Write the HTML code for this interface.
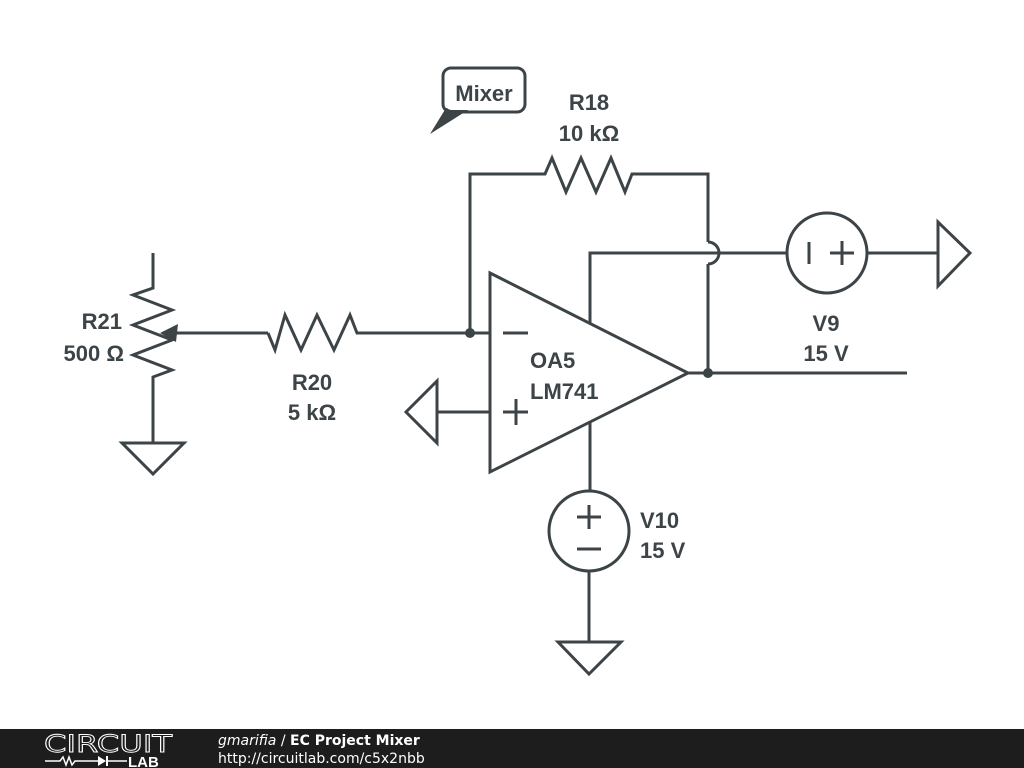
<!DOCTYPE html>
<html><head><meta charset="utf-8"><style>
html,body{margin:0;padding:0;background:#fff;width:1024px;height:768px;overflow:hidden}
svg{display:block}
</style></head><body>
<svg width="1024" height="768" viewBox="0 0 1024 768" xmlns="http://www.w3.org/2000/svg">
<g fill="none" stroke="#3d4448" stroke-width="3" stroke-linejoin="miter">
<polyline points="153,253 153,288 133,295 172,310 133,325 172,340 133,355 172,370 153,377 153,443"/>
<polygon points="122,443 184,443 153,474"/>
<line x1="176" y1="333" x2="268" y2="333"/>
<polyline points="268,333 275,350 285,315 301,350 317,315 334,350 350,315 357,333 490,333"/>
<polyline points="470,333 470,174 545,174 552,158 566,192 581,158 596,192 611,158 625,192 632,174 708,174 708,242"/>
<path d="M708,242 A11,11 0 0 1 708,264"/>
<line x1="708" y1="264" x2="708" y2="373"/>
<polygon points="490,273 490,472 688,373"/>
<line x1="503" y1="333" x2="528" y2="333"/>
<line x1="503" y1="412" x2="528" y2="412"/>
<line x1="516" y1="399" x2="516" y2="425"/>
<line x1="490" y1="412" x2="437" y2="412"/>
<polygon points="437,381 437,443 406,412"/>
<line x1="688" y1="373" x2="907" y2="373"/>
<polyline points="590,323 590,253 787,253"/>
<circle cx="827" cy="253" r="40"/>
<line x1="809" y1="242" x2="809" y2="264"/>
<line x1="830" y1="253" x2="854" y2="253"/>
<line x1="842" y1="241" x2="842" y2="265"/>
<line x1="867" y1="253" x2="938" y2="253"/>
<polygon points="938,222 938,286 970,253"/>
<line x1="590" y1="422" x2="590" y2="491"/>
<circle cx="589" cy="531" r="40"/>
<line x1="577" y1="517" x2="601" y2="517"/>
<line x1="589" y1="505" x2="589" y2="529"/>
<line x1="577" y1="549" x2="601" y2="549"/>
<line x1="589" y1="571" x2="589" y2="642"/>
<polygon points="558,642 621,642 589,674"/>
<rect x="443" y="68" width="82" height="44" rx="8"/>
</g>
<polygon points="160,333 178,324 176,342" fill="#3d4448"/>
<circle cx="470" cy="333" r="5" fill="#3d4448"/>
<circle cx="708" cy="373" r="5" fill="#3d4448"/>
<polygon points="446,108 468,110 430,134" fill="#3d4448"/>
<rect x="445" y="70" width="78" height="40" rx="7" fill="#fff"/>
<g font-family="Liberation Sans, Arial, sans-serif" font-weight="bold" font-size="22" fill="#3d4448">
<text x="484" y="101" text-anchor="middle">Mixer</text>
<text x="589" y="110" text-anchor="middle">R18</text>
<text x="589" y="141" text-anchor="middle">10 kΩ</text>
<text x="122" y="329" text-anchor="end">R21</text>
<text x="124" y="361" text-anchor="end">500 Ω</text>
<text x="312" y="390" text-anchor="middle">R20</text>
<text x="312" y="420" text-anchor="middle">5 kΩ</text>
<text x="530" y="368">OA5</text>
<text x="530" y="399">LM741</text>
<text x="826" y="331" text-anchor="middle">V9</text>
<text x="826" y="361" text-anchor="middle">15 V</text>
<text x="640" y="528">V10</text>
<text x="640" y="558">15 V</text>
</g>
<rect x="0" y="729" width="1024" height="39" fill="#1d1d1d"/>
<text x="44" y="752" font-family="DejaVu Sans,sans-serif" font-size="24" fill="none" stroke="#fff" stroke-width="0.9" textLength="128" lengthAdjust="spacingAndGlyphs">CIRCUIT</text>
<polyline points="45,761 60,761 63,757 66,765 69,757 72,765 75,761 98,761" fill="none" stroke="#fff" stroke-width="1.5"/>
<polygon points="98,756 98,766 106,761" fill="#fff"/>
<line x1="107" y1="756" x2="107" y2="766" stroke="#fff" stroke-width="2"/>
<line x1="107" y1="761" x2="127" y2="761" stroke="#fff" stroke-width="1.5"/>
<text x="128" y="767" font-family="Liberation Sans,sans-serif" font-weight="bold" font-size="15" fill="#fff">LAB</text>
<text x="218" y="745" font-family="DejaVu Sans,sans-serif" font-size="14" fill="#fff"><tspan font-style="italic">gmarifia</tspan> / <tspan font-weight="bold">EC Project Mixer</tspan></text>
<text x="218" y="763" font-family="DejaVu Sans,sans-serif" font-size="14" fill="#fff">http://circuitlab.com/c5x2nbb</text>
</svg>
</body></html>
